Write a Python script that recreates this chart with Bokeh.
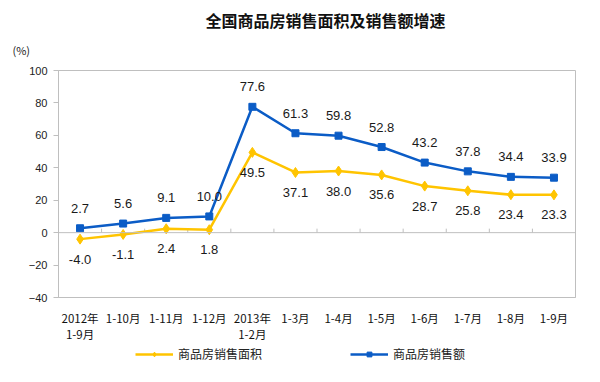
from bokeh.plotting import figure
from bokeh.layouts import column
from bokeh.models import (FactorRange, Range1d, FixedTicker, Span, Title, Legend,
                          LegendItem, ColumnDataSource)
from bokeh.core.properties import value
from bokeh.embed import file_html
from bokeh.resources import INLINE

# ---- data ----
categories = ["2012年\n1-9月", "1-10月", "1-11月", "1-12月", "2013年\n1-2月", "1-3月",
              "1-4月", "1-5月", "1-6月", "1-7月", "1-8月", "1-9月"]
area_growth = [-4.0, -1.1, 2.4, 1.8, 49.5, 37.1, 38.0, 35.6, 28.7, 25.8, 23.4, 23.3]
sales_growth = [2.7, 5.6, 9.1, 10.0, 77.6, 61.3, 59.8, 52.8, 43.2, 37.8, 34.4, 33.9]
y_ticks = [-40, -20, 0, 20, 40, 60, 80, 100]
title_text = "全国商品房销售面积及销售额增速"
unit_text = "(%)"
area_name = "商品房销售面积"
sales_name = "商品房销售额"

YELLOW = "#FFC400"
BLUE = "#0B5CC6"
GRAY = "#BFBFBF"

W, H = 600, 345
ML, MR, MT, MB = 58, 25, 70, 48
frame_h = H - MT - MB
ymin, ymax = y_ticks[0], y_ticks[-1]
px_per_unit = frame_h / (ymax - ymin)

p = figure(width=W, height=H, x_range=FactorRange(*categories, range_padding=0),
           y_range=Range1d(ymin, ymax), output_backend="svg", toolbar_location=None,
           title=None,
           min_border_left=ML, min_border_right=MR, min_border_top=MT, min_border_bottom=MB)
p.background_fill_color = "white"
p.border_fill_color = "white"
p.outline_line_color = GRAY
p.outline_line_width = 1
p.xgrid.visible = False
p.ygrid.visible = False

# y axis
p.yaxis.ticker = FixedTicker(ticks=y_ticks)
p.yaxis.axis_line_color = GRAY
p.yaxis.major_tick_line_color = GRAY
p.yaxis.major_tick_out = 5
p.yaxis.major_tick_in = 0
p.yaxis.minor_tick_line_color = None
p.yaxis.major_label_text_font = "Liberation Sans"
p.yaxis.major_label_text_font_size = "11px"
p.yaxis.major_label_text_color = "#222222"
p.yaxis.major_label_standoff = 6

# x axis
p.xaxis.axis_line_color = GRAY
p.xaxis.major_tick_line_color = None
p.xaxis.minor_tick_line_color = None
p.xaxis.major_label_text_font = "Noto Sans CJK SC"
p.xaxis.major_label_text_font_size = "11.5px"
p.xaxis.major_label_text_line_height = 1.0
p.xaxis.major_label_text_color = "#111111"
p.xaxis.major_label_standoff = 6

# zero line and category boundary ticks
p.add_layout(Span(location=0, dimension="width", line_color=GRAY, line_width=1))
bounds = list(range(1, len(categories)))
tick_len = 4 / px_per_unit
p.segment(x0=bounds, y0=[0] * len(bounds), x1=bounds, y1=[tick_len] * len(bounds),
          line_color=GRAY, line_width=1)

# series
src = ColumnDataSource(dict(x=categories, area=area_growth, sales=sales_growth,
                            area_lbl=[f"{v:.1f}" for v in area_growth],
                            sales_lbl=[f"{v:.1f}" for v in sales_growth],
                            area_y=[v - 20 / px_per_unit for v in area_growth],
                            sales_y=[v + 20 / px_per_unit for v in sales_growth]))

p.line("x", "area", source=src, line_color=YELLOW, line_width=2.5)
p.scatter("x", "area", source=src, marker="diamond", size=10, fill_color=YELLOW,
          line_color=YELLOW)
p.line("x", "sales", source=src, line_color=BLUE, line_width=2.5)
p.scatter("x", "sales", source=src, marker="square", size=7, fill_color=BLUE,
          line_color=BLUE)

p.text("x", "sales_y", text="sales_lbl", source=src, text_font=value("Liberation Sans"),
       text_font_size="13px", text_color="#1a1a1a", text_align="center",
       text_baseline="middle")
p.text("x", "area_y", text="area_lbl", source=src, text_font=value("Liberation Sans"),
       text_font_size="13px", text_color="#1a1a1a", text_align="center",
       text_baseline="middle")

# titles (nearest the frame first)
p.add_layout(Title(text=unit_text, align="left", offset=-46, text_font="Noto Sans CJK SC",
                   text_font_size="11px", text_font_style="normal", text_color="#222222",
                   standoff=25), "above")
p.add_layout(Title(text=title_text, align="left", offset=147, text_font="Noto Sans CJK SC",
                   text_font_size="16px", text_font_style="bold", text_color="#111111",
                   standoff=-9), "above")

# legend strip (separate small figure below the chart; its frame aligns with the chart's)
LH = 37
q = figure(width=W, height=LH, x_range=Range1d(0, 1), y_range=Range1d(0, 1),
           output_backend="svg", toolbar_location=None, title=None,
           min_border=0, outline_line_color=None)
q.axis.visible = False
q.grid.visible = False
nan = [float("nan")]
ql = q.line(x=nan, y=nan, line_color=YELLOW, line_width=2.5)
qm = q.scatter(x=nan, y=nan, marker="diamond", size=10, fill_color=YELLOW, line_color=YELLOW)
rl = q.line(x=nan, y=nan, line_color=BLUE, line_width=2.5)
rm = q.scatter(x=nan, y=nan, marker="square", size=7, fill_color=BLUE, line_color=BLUE)
legend = Legend(items=[LegendItem(label=area_name, renderers=[ql, qm]),
                       LegendItem(label=sales_name, renderers=[rl, rm])],
                orientation="horizontal", location=(135 - ML, LH - 17),
                glyph_width=38, glyph_height=12, label_standoff=5, spacing=88,
                padding=0, margin=0, border_line_color=None,
                background_fill_alpha=0,
                label_text_font="Noto Sans CJK SC", label_text_font_size="12px",
                label_text_color="#222222")
q.add_layout(legend, "center")

layout = column(p, q, spacing=0)
open("out.html", "w").write(file_html(layout, INLINE))
